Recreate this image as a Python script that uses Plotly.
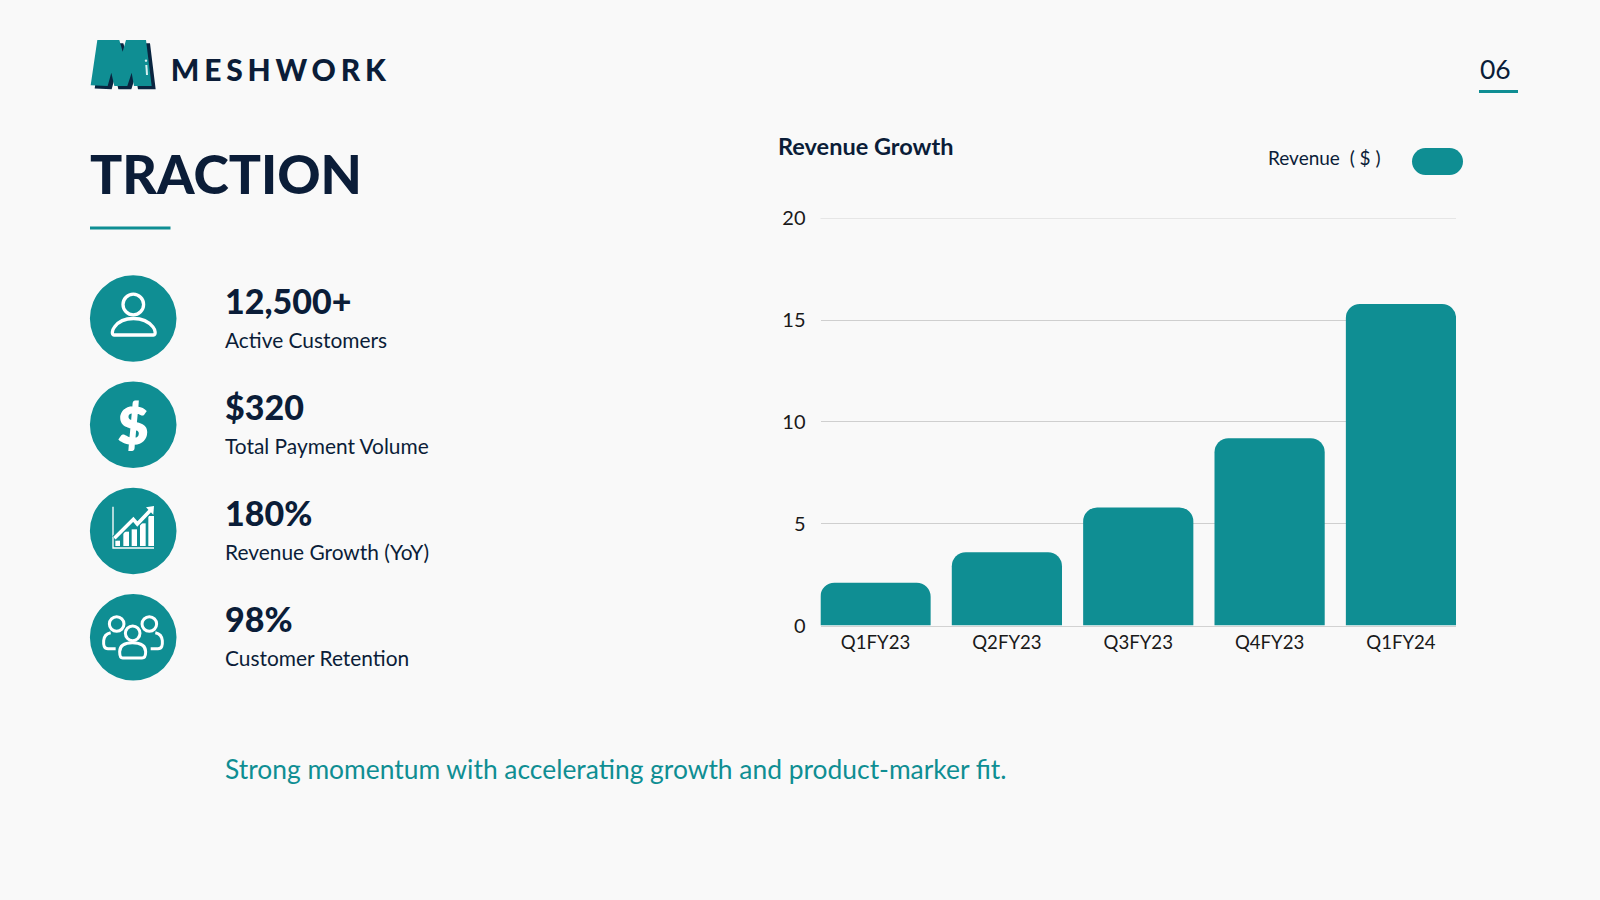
import plotly.graph_objects as go

quarters = ["Q1FY23", "Q2FY23", "Q3FY23", "Q4FY23", "Q1FY24"]
revenue = [2.1, 3.6, 5.8, 9.2, 15.8]
y_ticks = [0, 5, 10, 15, 20]
metric_values = ["12,500+", "$320", "180%", "98%"]
metric_labels = ["Active Customers", "Total Payment Volume", "Revenue Growth (YoY)", "Customer Retention"]

W, H = 1600, 900
BG = "#f9f9f9"
TEAL = "#0f8e93"
NAVY = "#0b1d38"
FONT = "Lato"


def px(x):
    return x / W


def py(y):
    return 1 - y / H


def path(*cmds):
    """cmds: strings and (x, y) pixel tuples -> paper-space SVG path."""
    out = []
    for c in cmds:
        if isinstance(c, str):
            out.append(c)
        else:
            out.append(f"{px(c[0]):.5f},{py(c[1]):.5f}")
    return " ".join(out)


shapes = []


def add_path(d, fill=None, line=None, width=0, layer="above"):
    shapes.append(dict(type="path", xref="paper", yref="paper", path=d,
                       fillcolor=fill if fill else "rgba(0,0,0,0)",
                       line=dict(color=line if line else "rgba(0,0,0,0)", width=width),
                       layer=layer))


def add_circle(cx, cy, r, fill=None, line=None, width=0):
    shapes.append(dict(type="circle", xref="paper", yref="paper",
                       x0=px(cx - r), x1=px(cx + r), y0=py(cy + r), y1=py(cy - r),
                       fillcolor=fill if fill else "rgba(0,0,0,0)",
                       line=dict(color=line if line else "rgba(0,0,0,0)", width=width),
                       layer="above"))


def add_rect(x0, y0, x1, y1, fill):
    shapes.append(dict(type="rect", xref="paper", yref="paper",
                       x0=px(x0), x1=px(x1), y0=py(y1), y1=py(y0),
                       fillcolor=fill, line=dict(width=0), layer="above"))


def zpoly(pts, ox, oy, dx=0, dy=0):
    cmds = []
    for i, (a, b) in enumerate(pts):
        cmds.append("M" if i == 0 else "L")
        cmds.append((ox + a / 3 + dx, oy + b / 3 + dy))
    cmds.append("Z")
    return path(*cmds)


# logo
m_pts = [(82, 60), (148, 60), (158, 95), (168, 60), (228, 60), (245, 198), (192, 198),
         (185, 158), (172, 198), (133, 198), (124, 158), (113, 198), (62, 196)]
add_path(zpoly(m_pts, 70, 20, 4, 3.2), fill="#0a2540")
add_path(zpoly(m_pts, 70, 20), fill=TEAL)
add_path(path("M", (70 + 229 / 3, 20 + 135 / 3), "L", (70 + 231 / 3, 20 + 165 / 3)), line="#d8f0f0", width=2)
add_circle(70 + 228 / 3, 20 + 122 / 3, 1.2, fill="#d8f0f0")

# rules and legend pill
add_rect(1479, 90, 1518, 93, TEAL)
add_rect(90, 226.5, 170.5, 229.5, TEAL)
r = 13.5
lx0, lx1, ly0, ly1 = 1412, 1463, 148, 175
add_path(path("M", (lx0 + r, ly0), "L", (lx1 - r, ly0), "C", (lx1 - r / 2.2, ly0), (lx1, ly0 + r / 2.2), (lx1, ly0 + r),
              "C", (lx1, ly1 - r / 2.2), (lx1 - r / 2.2, ly1), (lx1 - r, ly1), "L", (lx0 + r, ly1),
              "C", (lx0 + r / 2.2, ly1), (lx0, ly1 - r / 2.2), (lx0, ly1 - r),
              "C", (lx0, ly0 + r / 2.2), (lx0 + r / 2.2, ly0), (lx0 + r, ly0), "Z"), fill=TEAL)

# top gridline (plotly drops the grid at the axis end)
shapes.append(dict(type="line", xref="x domain", yref="y", x0=0, x1=1, y0=y_ticks[-1], y1=y_ticks[-1],
                   line=dict(color="#cfcfcf", width=1), layer="below"))

# icon discs
centers = [318.5, 424.8, 531, 637.3]
for c in centers:
    add_circle(133.2, c, 43.3, fill=TEAL)

# person icon
add_circle(133.3, 304.5, 10.3, line="white", width=3.3)
add_path(path("M", (114, 335), "L", (153.5, 335), "C", (156, 335), (155.5, 330), (153, 327),
              "C", (149, 322), (142, 318.5), (133.5, 318.5), "C", (125, 318.5), (118, 322), (114.5, 327),
              "C", (112, 330), (111.5, 335), (114, 335), "Z"), line="white", width=3.3)

# growth icon
ox, oy = 80, 470
add_path(zpoly([(97, 110), (101, 110), (101, 232), (222, 232), (222, 236), (97, 236)], ox, oy), fill="white")
for x0, x1, top in [(106, 120, 212), (130, 147, 185), (155, 171, 178), (180, 197, 160), (205, 222, 138)]:
    add_rect(ox + x0 / 3, oy + top / 3, ox + x1 / 3, oy + 228 / 3, "white")
zig = ["M", (ox + 103 / 3, oy + 205 / 3), "L", (ox + 160 / 3, oy + 148 / 3), "L", (ox + 172 / 3, oy + 162 / 3),
       "L", (ox + 212 / 3, oy + 120 / 3)]
add_path(path(*zig), line=TEAL, width=6)
add_path(path(*zig), line="white", width=3.6)
add_path(zpoly([(198, 112), (222, 108), (220, 134)], ox, oy), fill="white")

# group icon
ox, oy = 80, 470
for hx, hy in [(110, 462), (208, 462), (158, 490)]:
    add_circle(ox + hx / 3, oy + hy / 3, 7.3, line="white", width=3)
add_path(path("M", (ox + 128 / 3, oy + 564 / 3), "L", (ox + 186 / 3, oy + 564 / 3),
              "C", (ox + 196 / 3, oy + 564 / 3), (ox + 197 / 3, oy + 555 / 3), (ox + 197 / 3, oy + 545 / 3),
              "C", (ox + 197 / 3, oy + 525 / 3), (ox + 178 / 3, oy + 518 / 3), (ox + 157 / 3, oy + 518 / 3),
              "C", (ox + 136 / 3, oy + 518 / 3), (ox + 119 / 3, oy + 525 / 3), (ox + 119 / 3, oy + 545 / 3),
              "C", (ox + 119 / 3, oy + 555 / 3), (ox + 120 / 3, oy + 564 / 3), (ox + 128 / 3, oy + 564 / 3), "Z"),
         line="white", width=3)
add_path(path("M", (ox + 107 / 3, oy + 536 / 3), "L", (ox + 84 / 3, oy + 536 / 3),
              "C", (ox + 72 / 3, oy + 536 / 3), (ox + 70 / 3, oy + 525 / 3), (ox + 71 / 3, oy + 512 / 3),
              "C", (ox + 72 / 3, oy + 498 / 3), (ox + 82 / 3, oy + 490 / 3), (ox + 92 / 3, oy + 488 / 3)),
         line="white", width=3)
add_path(path("M", (ox + 212 / 3, oy + 536 / 3), "L", (ox + 234 / 3, oy + 536 / 3),
              "C", (ox + 246 / 3, oy + 536 / 3), (ox + 248 / 3, oy + 525 / 3), (ox + 247 / 3, oy + 512 / 3),
              "C", (ox + 246 / 3, oy + 498 / 3), (ox + 236 / 3, oy + 490 / 3), (ox + 226 / 3, oy + 488 / 3)),
         line="white", width=3)

annotations = []


def label(text, x, y, size, color=NAVY, weight=400, anchor="left"):
    annotations.append(dict(text=text, x=px(x), y=py(y), xref="paper", yref="paper",
                            xanchor=anchor, yanchor="middle", showarrow=False,
                            borderpad=0, borderwidth=0,
                            font=dict(family=FONT, size=size, color=color, weight=weight)))


label("MESHWORK", 281.5, 68.8, 30, weight=900, anchor="center")
label("06", 1479.5, 69.5, 26.5)
label("TRACTION", 90, 173, 53.5, weight=900)
metric_y = [300.7, 406.7, 512.7, 618.7]
label_y = [339.5, 445.5, 551.5, 657.5]
for v, t, a, b in zip(metric_values, metric_labels, metric_y, label_y):
    label(v, 224.5, a, 34, weight=900)
    label(t, 224.5, b, 20.9)
label("$", 133.2, 424, 52, color="white", weight=900, anchor="center")
label("Strong momentum with accelerating growth and product-marker fit.", 224.5, 768.5, 26.4, color=TEAL)
label("Revenue Growth", 778, 146, 23.5, weight=700)
label("Revenue  ( $ )", 1268, 157.5, 19)

fig = go.Figure(go.Bar(x=quarters, y=revenue, marker=dict(color=TEAL, line=dict(width=0)), showlegend=False))
fig.update_layout(
    width=W, height=H, autosize=False,
    margin=dict(l=0, r=0, t=0, b=0, pad=0),
    paper_bgcolor=BG, plot_bgcolor=BG,
    bargap=0.161, barcornerradius=14,
    shapes=shapes, annotations=annotations,
    font=dict(family=FONT, color="#1a1a1a"),
    xaxis=dict(domain=[820.5 / W, 1456 / W], type="category", categoryorder="array", categoryarray=quarters,
               range=[-0.419, 4.419], showgrid=False, zeroline=False, showline=True, linecolor="#d2d2d2", linewidth=1,
               automargin=False,
               ticks="", tickfont=dict(family=FONT, size=18.6, color="#1a1a1a")),
    yaxis=dict(domain=[1 - 625.5 / H, 1 - 218.4 / H], range=[0, 20], tickvals=y_ticks,
               showgrid=True, gridcolor="#cfcfcf", gridwidth=1, zeroline=False, showline=False,
               automargin=False,
               ticks="outside", ticklen=10, tickcolor="rgba(0,0,0,0)", tickfont=dict(family=FONT, size=20, color="#1a1a1a")),
)

post = """
document.documentElement.style.overflow='hidden';
document.documentElement.style.background='%s';
document.body.style.margin='0';
document.body.style.background='%s';
document.querySelectorAll('.annotation-text').forEach(function(t){
  if(t.textContent==='MESHWORK'){t.style.letterSpacing='4.8px';}
  if(t.textContent==='$'){t.style.stroke='white';t.style.strokeWidth='1.5px';}
});
""" % (BG, BG)
fig.write_html("out.html", post_script=post, config=dict(displayModeBar=False))
